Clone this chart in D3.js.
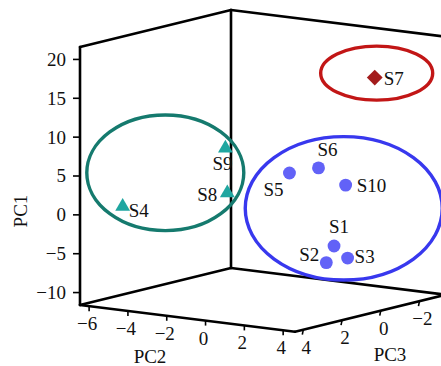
<!DOCTYPE html>
<html>
<head>
<meta charset="utf-8">
<script src="https://cdn.jsdelivr.net/npm/d3@7"></script>
<style>
  body { margin: 0; background: #fff; }
  text { font-family: "Liberation Serif", "Times New Roman", serif; font-size: 19px; fill: #111; }
</style>
</head>
<body>
<div id="chart"></div>
<script>
// sample scores (PC1, PC2, PC3) and groups
const samples = ["S1", "S2", "S3", "S4", "S5", "S6", "S7", "S8", "S9", "S10"];
const pc1 = [-3.1, -4.9, -4.9, 0.9, 6.5, 6.7, 18.3, 2.0, 8.2, 4.0];
const pc2 = [3.2, 3.3, 3.4, -5.2, 1.9, 2.4, 4.3, -2.3, -1.9, 2.8];
const pc3 = [1.0, 1.5, 0.5, 3.5, 2.0, 1.0, 0.0, 1.0, 1.5, 0.0];
const group = ["A", "A", "A", "B", "A", "A", "C", "B", "B", "A"];

// group ellipse centres in score space
const groupNames = ["B", "C", "A"];
const groupPc1 = [5.0, 18.9, 1.9];
const groupPc2 = [-4.0, 4.4, 3.7];
const groupPc3 = [2.5, 0.0, 1.0];

// axis ticks
const pc1Ticks = [-10, -5, 0, 5, 10, 15, 20];
const pc2Ticks = [-6, -4, -2, 0, 2, 4];
const pc3Ticks = [4, 2, 0, -2];

const W = 441, H = 366;
const ORIGIN = [80, 305];          // front-left floor corner
const EDGE2 = [215, 26.7];         // along PC2
const EDGE3 = [151, -37];          // along PC3 (into the depth)
const HEIGHT = 258;                // along PC1

const STYLE = {
  A: {ellipse: "#3838ee", fill: "#6262f7", rx: 98.5, ry: 71.7},
  B: {ellipse: "#157a6e", fill: "#1fa6a0", rx: 78.5, ry: 57.8},
  C: {ellipse: "#c21616", fill: "#a31c1c", rx: 56, ry: 27}
};

const s1 = d3.scaleLinear().domain([-11.6, 21.6]).range([0, 1]);
const s2 = d3.scaleLinear().domain([-6.47, 4.61]).range([0, 1]);
const s3 = d3.scaleLinear().domain([4.43, -3.37]).range([0, 1]);

function proj(a, b, c) {
  const f1 = s1(a), f2 = s2(b), f3 = s3(c);
  return [
    ORIGIN[0] + f2 * EDGE2[0] + f3 * EDGE3[0],
    ORIGIN[1] + f2 * EDGE2[1] + f3 * EDGE3[1] - f1 * HEIGHT
  ];
}

const svg = d3.select("#chart").append("svg")
  .attr("width", W)
  .attr("height", H);

const [p1lo, p1hi] = s1.domain();
const [p2lo, p2hi] = s2.domain();
const [p3front, p3back] = s3.domain();

// Box edges
const edges = [
  [[p1lo, p2lo, p3front], [p1hi, p2lo, p3front]],
  [[p1hi, p2lo, p3front], [p1hi, p2lo, p3back]],
  [[p1hi, p2lo, p3back], [p1hi, p2hi, p3back]],
  [[p1lo, p2lo, p3back], [p1hi, p2lo, p3back]],
  [[p1lo, p2lo, p3front], [p1lo, p2lo, p3back]],
  [[p1lo, p2lo, p3front], [p1lo, p2hi, p3front]],
  [[p1lo, p2hi, p3front], [p1lo, p2hi, p3back]],
  [[p1lo, p2lo, p3back], [p1lo, p2hi, p3back]]
];
svg.append("g").selectAll("line")
  .data(edges)
  .enter()
  .append("line")
  .attr("x1", (d) => proj(...d[0])[0])
  .attr("y1", (d) => proj(...d[0])[1])
  .attr("x2", (d) => proj(...d[1])[0])
  .attr("y2", (d) => proj(...d[1])[1])
  .attr("stroke", "#000")
  .attr("stroke-width", 2.6)
  .attr("stroke-linecap", "round");

const fmt = d3.format("d");

// PC1 axis
const ax1 = svg.append("g");
pc1Ticks.forEach((t) => {
  const p = proj(t, p2lo, p3front);
  ax1.append("line").attr("x1", p[0] - 7).attr("x2", p[0]).attr("y1", p[1]).attr("y2", p[1])
    .attr("stroke", "#000").attr("stroke-width", 1.6);
  ax1.append("text").attr("x", p[0] - 14).attr("y", p[1]).attr("dy", "0.34em")
    .attr("text-anchor", "end").text(fmt(t));
});
svg.append("text")
  .attr("transform", "translate(27,211) rotate(-90)")
  .attr("text-anchor", "middle")
  .text("PC1");

// PC2 axis
const ax2 = svg.append("g");
pc2Ticks.forEach((t) => {
  const p = proj(p1lo, t, p3front);
  ax2.append("line").attr("x1", p[0]).attr("x2", p[0]).attr("y1", p[1]).attr("y2", p[1] + 5)
    .attr("stroke", "#000").attr("stroke-width", 1.6);
  ax2.append("text").attr("x", p[0] - 2).attr("y", p[1] + 24)
    .attr("text-anchor", "middle").text(fmt(t));
});
svg.append("text").attr("x", 150).attr("y", 363).attr("text-anchor", "middle").text("PC2");

// PC3 axis
const ax3 = svg.append("g");
pc3Ticks.forEach((t) => {
  const p = proj(p1lo, p2hi, t);
  ax3.append("line").attr("x1", p[0]).attr("x2", p[0] - 1).attr("y1", p[1]).attr("y2", p[1] + 5)
    .attr("stroke", "#000").attr("stroke-width", 1.6);
  ax3.append("text").attr("x", p[0] + 3).attr("y", p[1] + 24)
    .attr("text-anchor", "middle").text(fmt(t));
});
svg.append("text").attr("x", 390).attr("y", 361).attr("text-anchor", "middle").text("PC3");

// Group ellipses
svg.append("g").selectAll("ellipse")
  .data(groupNames)
  .enter()
  .append("ellipse")
  .attr("cx", (d, i) => proj(groupPc1[i], groupPc2[i], groupPc3[i])[0])
  .attr("cy", (d, i) => proj(groupPc1[i], groupPc2[i], groupPc3[i])[1])
  .attr("rx", (d) => STYLE[d].rx)
  .attr("ry", (d) => STYLE[d].ry)
  .attr("fill", "none")
  .attr("stroke", (d) => STYLE[d].ellipse)
  .attr("stroke-width", 3.4);

// Points (diamond = square turned 45 degrees)
const shapes = {A: d3.symbolCircle, B: d3.symbolTriangle, C: d3.symbolSquare};
const sizes = {A: 130, B: 95, C: 125};
svg.append("g").selectAll("path")
  .data(samples)
  .enter()
  .append("path")
  .attr("transform", (d, i) => {
    const p = proj(pc1[i], pc2[i], pc3[i]);
    const rot = group[i] === "C" ? " rotate(45)" : "";
    return "translate(" + p[0] + "," + p[1] + ")" + rot;
  })
  .attr("d", (d, i) => d3.symbol().type(shapes[group[i]]).size(sizes[group[i]])())
  .attr("fill", (d, i) => STYLE[group[i]].fill);

// Labels: offset from the point and anchor
const labelPos = {
  S1: [-5, -13, "start"], S2: [-7, -2, "end"], S3: [7, 5, "start"],
  S4: [6, 10, "start"], S5: [-6, 23, "end"], S6: [-1, -12, "start"],
  S7: [9, 7, "start"], S8: [-10, 8, "end"], S9: [-13, 22, "start"],
  S10: [11, 7, "start"]
};
svg.append("g").selectAll("text")
  .data(samples)
  .enter()
  .append("text")
  .attr("x", (d, i) => proj(pc1[i], pc2[i], pc3[i])[0] + labelPos[d][0])
  .attr("y", (d, i) => proj(pc1[i], pc2[i], pc3[i])[1] + labelPos[d][1])
  .attr("text-anchor", (d) => labelPos[d][2])
  .text((d) => d);
</script>
</body>
</html>
